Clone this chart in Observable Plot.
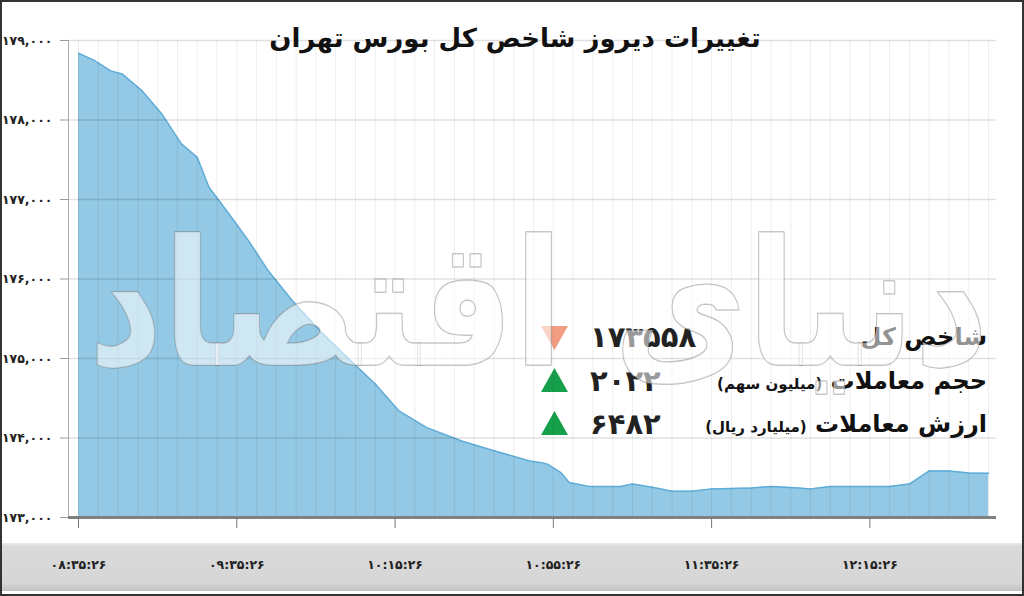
<!DOCTYPE html>
<html><head><meta charset="utf-8">
<script src="https://cdn.jsdelivr.net/npm/d3@7"></script>
<script src="https://cdn.jsdelivr.net/npm/@observablehq/plot@0.6"></script>
<style>
body{margin:0;background:#fff;font-family:"DejaVu Sans",sans-serif;}
#wrap{position:relative;width:1024px;height:596px;overflow:hidden;background:#fff;}
#band{position:absolute;left:0;top:543px;width:1024px;height:48px;background:linear-gradient(#ececec 0,#dadada 3px,#d6d6d6 40px,#c2c2c2 48px);}
#chart{position:absolute;left:0;top:0;}
#title{position:absolute;top:23px;left:0;width:1030px;text-align:center;font-weight:bold;font-size:26px;direction:rtl;color:#111;}
#border{position:absolute;left:0;top:0;width:1024px;height:596px;border:2px solid #333;box-sizing:border-box;pointer-events:none;}
.row{position:absolute;left:0;width:1024px;height:40px;}
.lab{position:absolute;right:37px;top:0;direction:rtl;font-weight:bold;font-size:24px;color:#111;white-space:nowrap;line-height:40px;}
.lab small{font-size:15px;}
.val{position:absolute;left:590px;top:0;font-weight:bold;font-size:29px;color:#222;line-height:40px;}
.tri{position:absolute;left:541px;width:27px;height:24px;}
.down{clip-path:polygon(0 0,100% 0,50% 100%);background:#f29e82;top:9px;}
.up{clip-path:polygon(50% 0,100% 100%,0 100%);background:#17a04b;top:7px;}
</style></head>
<body>
<div id="wrap">
  <div id="band"></div>
  <div id="legend"></div>
  <div id="chart"></div>
  <div id="title"></div>
  <div id="border"></div>
</div>
<script>
// ---- data ----
const titleText = "تغییرات دیروز شاخص کل بورس تهران";
const watermark = "دنیای اقتصاد";
// minutes elapsed since the first labelled tick
const minutes = [0,4,8,11,16,21,26,30,33,38,43,48,54,61,68,75,81,88,97,105,114,117,118.5,122,124,129,137,140,145,150,155,160,170,175,182,185,190,200,205,210,215,220,225,230];
const values  = [178840,178750,178620,178580,178370,178080,177700,177530,177150,176820,176480,176100,175730,175350,175010,174680,174340,174130,173960,173840,173710,173690,173670,173560,173440,173390,173390,173420,173380,173330,173330,173360,173370,173390,173370,173360,173390,173390,173390,173420,173585,173585,173560,173558];
const xTickMinutes = [0,40,80,120,160,200];
const xTickLabels = ["08:35:26","09:35:26","10:15:26","10:55:26","11:35:26","12:15:26"];
const yTicks = [173000,174000,175000,176000,177000,178000,179000];
const legendLabels = ["شاخص کل","حجم معاملات","ارزش معاملات"];
const legendUnits = ["","(میلیون سهم)","(میلیارد ریال)"];
const legendValues = [173558,2022,6482];
const legendDir = ["down","up","up"];

const fa = s => String(s).replace(/\d/g, d => "۰۱۲۳۴۵۶۷۸۹"[d]);
const data = minutes.map((m,i)=>({m, v: values[i]}));
const xDomain = [-2.53, 232];
const minor = d3.range(0, 232, 5);

document.getElementById("title").textContent = titleText;

const chart = Plot.plot({
  width:1024, height:596,
  marginLeft:68, marginRight:28, marginTop:40, marginBottom:79,
  style:{background:"transparent", fontFamily:"DejaVu Sans", fontSize:"12.5px", fontWeight:"bold", color:"#222"},
  x:{domain:xDomain, label:null},
  y:{domain:[173000,179000], label:null},
  marks:[
    Plot.areaY(data,{x:"m", y1:173000, y2:"v", fill:"#93c9e5"}),
    Plot.line(data,{x:"m", y:"v", stroke:"#5eacd8", strokeWidth:1.5}),
    Plot.ruleX(minor,{stroke:"#000", strokeOpacity:0.07}),
    Plot.ruleY(yTicks,{stroke:"#000", strokeOpacity:0.12, strokeWidth:1.5}),
    Plot.ruleX([xDomain[0]],{stroke:"#aaa"}),
    Plot.ruleY([173000],{stroke:"#808080", strokeWidth:3}),
    Plot.axisY(yTicks,{label:null, tickSize:8, tickPadding:8, stroke:"#999", fill:"#222", tickFormat:d=>fa(d3.format(",")(d))}),
    Plot.axisX(xTickMinutes,{label:null, tickSize:11, stroke:"#777", tickFormat:()=>""}),
    Plot.text(xTickMinutes,{x:d=>d, frameAnchor:"bottom", dy:51, text:(d,i)=>fa(xTickLabels[i]), fill:"#222", fontWeight:"bold", fontSize:12.5}),
    Plot.text([watermark],{text:d=>d, frameAnchor:"middle", dx:6, dy:30, fontSize:175, fontWeight:"bold", fill:"white", fillOpacity:0.55, stroke:"#777", strokeOpacity:0.55, strokeWidth:1.5})
  ]
});
document.getElementById("chart").appendChild(chart);
d3.select(chart).selectAll("text").filter(function(){ return this.textContent === watermark; })
  .attr("textLength", 900).attr("lengthAdjust", "spacingAndGlyphs");

const rowTops = [317, 361, 404];
const legend = document.getElementById("legend");
legendLabels.forEach((lab,i)=>{
  const row = document.createElement("div");
  row.className = "row"; row.style.top = rowTops[i]+"px";
  row.innerHTML = `<div class="tri ${legendDir[i]}"></div><div class="val">${fa(legendValues[i])}</div><div class="lab">${lab}${legendUnits[i] ? " <small>"+legendUnits[i]+"</small>" : ""}</div>`;
  legend.appendChild(row);
});
</script>
</body></html>
